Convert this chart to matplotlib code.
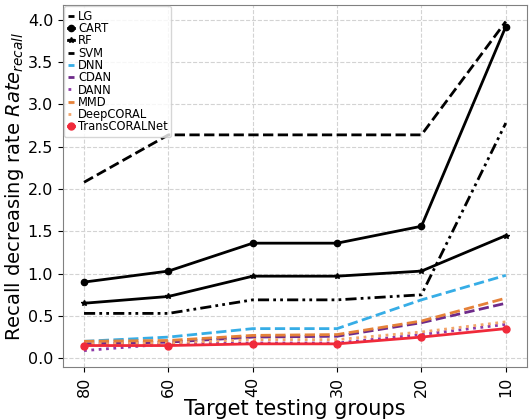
import matplotlib
matplotlib.use("Agg")
import matplotlib.pyplot as plt

groups = ['80', '60', '40', '30', '20', '10']
lg = [2.08, 2.64, 2.64, 2.64, 2.64, 3.98]
cart = [0.90, 1.03, 1.36, 1.36, 1.56, 3.92]
rf = [0.65, 0.73, 0.97, 0.97, 1.03, 1.45]
svm = [0.53, 0.53, 0.69, 0.69, 0.75, 2.78]
dnn = [0.20, 0.25, 0.35, 0.35, 0.69, 0.98]
cdan = [0.17, 0.19, 0.25, 0.26, 0.42, 0.65]
dann = [0.09, 0.17, 0.18, 0.18, 0.28, 0.40]
mmd = [0.20, 0.21, 0.27, 0.28, 0.44, 0.71]
deepcoral = [0.17, 0.18, 0.22, 0.22, 0.31, 0.43]
transcoral = [0.15, 0.15, 0.17, 0.17, 0.25, 0.35]

fig = plt.figure(figsize=(5.29, 4.2), dpi=100)
ax = fig.add_axes([0.119, 0.126, 0.877, 0.862])
x = list(range(len(groups)))

ax.plot(x, lg, color='black', ls='--', lw=2, label='LG')
ax.plot(x, cart, color='black', ls='-', lw=2, marker='o', ms=4.5, label='CART')
ax.plot(x, rf, color='black', ls='-', lw=2, marker='*', ms=4, label='RF')
ax.plot(x, svm, color='black', ls=(0, (4, 1.5, 1, 1.5, 1, 1.5)), lw=2, label='SVM')
ax.plot(x, dnn, color='#36ade6', ls='--', lw=2, label='DNN')
ax.plot(x, cdan, color='#6e2a8a', ls='--', lw=2, label='CDAN')
ax.plot(x, dann, color='#8d3aa8', ls=':', lw=2, label='DANN')
ax.plot(x, mmd, color='#e58139', ls='--', lw=2, label='MMD')
ax.plot(x, deepcoral, color='#f2a56a', ls=':', lw=2, label='DeepCORAL')
ax.plot(x, transcoral, color='#f02a3a', ls='-', lw=2, marker='o', ms=5, label='TransCORALNet')

ax.set_xticks(x)
ax.set_xticklabels(groups, rotation=90, fontsize=11.5)
ax.tick_params(axis='y', labelsize=11.5)
ax.set_yticks([0.0, 0.5, 1.0, 1.5, 2.0, 2.5, 3.0, 3.5, 4.0])
ax.grid(True, ls='--', color='lightgray', lw=0.8)
for s in ax.spines.values():
    s.set_color('gray')
ax.set_xlabel('Target testing groups', fontsize=15, labelpad=1)
ax.set_ylabel('Recall decreasing rate $Rate_{recall}$', fontsize=14, labelpad=1)

leg = ax.legend(loc='upper left', fontsize=8.3, handlelength=0.6, handletextpad=0.3,
                labelspacing=-0.06, borderpad=0.3, borderaxespad=0.1, framealpha=0.8)

fig.savefig('out.png', dpi=100)
